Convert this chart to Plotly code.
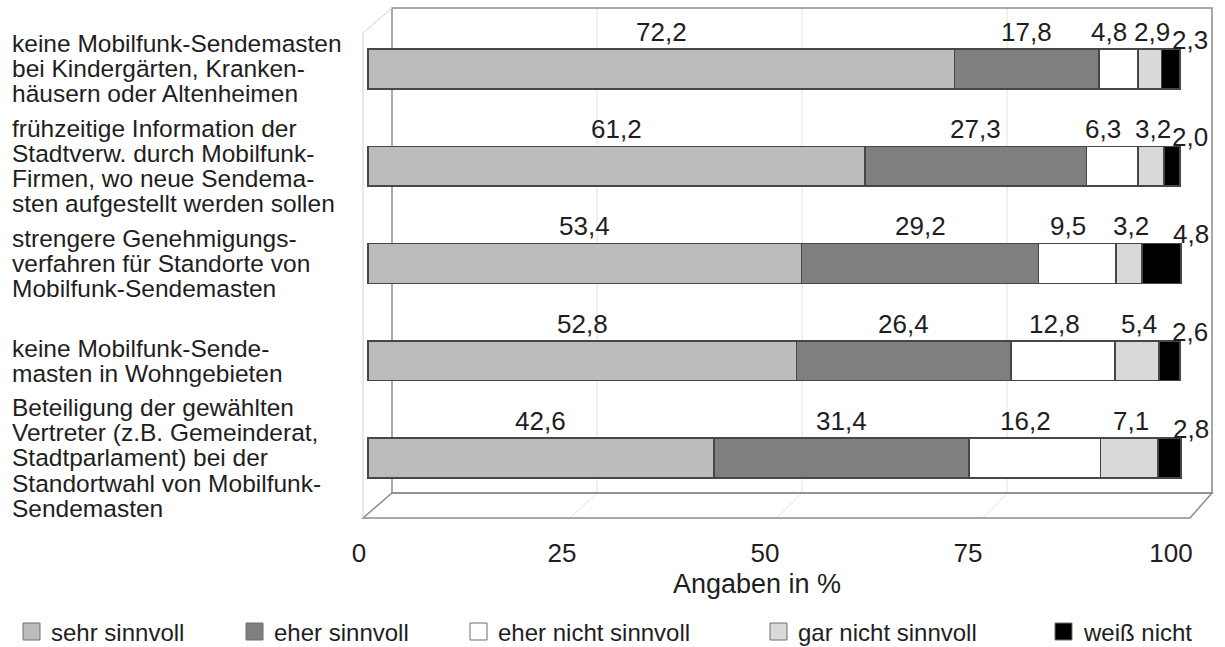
# Mobilfunk survey chart
# ----------------------------------------------------------------------------------------------------------------------
# Library
# ----------------------------------------------------------------------------------------------------------------------
import plotly.graph_objects as go

# ----------------------------------------------------------------------------------------------------------------------
# Data
# ----------------------------------------------------------------------------------------------------------------------
categories = [
    "keine Mobilfunk-Sendemasten<br>bei Kindergärten, Kranken-<br>häusern oder Altenheimen",
    "frühzeitige Information der<br>Stadtverw. durch Mobilfunk-<br>Firmen, wo neue Sendema-<br>sten aufgestellt werden sollen",
    "strengere Genehmigungs-<br>verfahren für Standorte von<br>Mobilfunk-Sendemasten",
    "keine Mobilfunk-Sende-<br>masten in Wohngebieten",
    "Beteiligung der gewählten<br>Vertreter (z.B. Gemeinderat,<br>Stadtparlament) bei der<br>Standortwahl von Mobilfunk-<br>Sendemasten",
]
series_names = ["sehr sinnvoll", "eher sinnvoll", "eher nicht sinnvoll", "gar nicht sinnvoll", "weiß nicht"]
sehr_sinnvoll = [72.2, 61.2, 53.4, 52.8, 42.6]
eher_sinnvoll = [17.8, 27.3, 29.2, 26.4, 31.4]
eher_nicht_sinnvoll = [4.8, 6.3, 9.5, 12.8, 16.2]
gar_nicht_sinnvoll = [2.9, 3.2, 3.2, 5.4, 7.1]
weiss_nicht = [2.3, 2.0, 4.8, 2.6, 2.8]
x_ticks = [0, 25, 50, 75, 100]
x_title = "Angaben in %"

# ----------------------------------------------------------------------------------------------------------------------
# Style
# ----------------------------------------------------------------------------------------------------------------------
colors = ['#bcbcbc', '#7f7f7f', '#ffffff', '#d9d9d9', '#000000']
font_family = "Liberation Sans, Arial, sans-serif"
text_color = '#1e1e1e'

# Plot area in pixels (used for decoration placement)
L, R, T, B = 360, 1215, 8, 518
W, H = 1225, 647


def px_x(px):
    return (px - L) / (R - L)


def px_y(py):
    return (B - py) / (B - T)


# ----------------------------------------------------------------------------------------------------------------------
# Figure
# ----------------------------------------------------------------------------------------------------------------------
fig = go.Figure()
rows = list(range(len(categories)))
all_series = [sehr_sinnvoll, eher_sinnvoll, eher_nicht_sinnvoll, gar_nicht_sinnvoll, weiss_nicht]

for name, vals, col in zip(series_names, all_series, colors):
    fig.add_trace(go.Bar(y=rows, x=vals, name=name, orientation='h', width=0.41,
                         marker=dict(color=col, line=dict(color='#474747', width=1.5)),
                         showlegend=False))

# Value labels above each segment (small nudges keep the narrow ones apart)
label_xshift = [0, 0, -9, 2, 10]
annotations = []
base = [0.0] * len(rows)
for k, vals in enumerate(all_series):
    last = k == len(all_series) - 1
    for i, v in enumerate(vals):
        center = base[i] + v / 2
        annotations.append(dict(
            x=base[i] + v if last else center, y=i, xref='x', yref='y',
            text=f"{v:.1f}".replace('.', ','), showarrow=False,
            xanchor='center', yanchor='bottom',
            xshift=label_xshift[k], yshift=12 if last else 20,
            font=dict(size=26, color=text_color, family=font_family)))
        base[i] += v

# Category labels, line by line (tight line spacing)
line_step = 25 / 97.25
for i, cat in enumerate(categories):
    lines = cat.split("<br>")
    n = len(lines)
    for j, line in enumerate(lines):
        annotations.append(dict(
            x=px_x(10), y=i + (j - (n - 1) / 2) * line_step, xref='paper', yref='y',
            text=line, showarrow=False, xanchor='left', yanchor='middle',
            font=dict(size=24.5, color=text_color, family=font_family)))

# Axis title
annotations.append(dict(x=px_x(757), y=px_y(584), xref='paper', yref='paper', text=x_title,
                        showarrow=False, xanchor='center', yanchor='middle',
                        font=dict(size=27, color=text_color, family=font_family)))

# ----------------------------------------------------------------------------------------------------------------------
# 3D box decoration (back wall, floor, side wall, grid)
# ----------------------------------------------------------------------------------------------------------------------
shapes = []
box_line = dict(color='#8c8c8c', width=1.5)
grid_line = dict(color='#e2e2e2', width=1)

back_l, back_r, back_t, back_b = 392, 1212, 8, 493
front_l, front_r = 363, 1190

for t in x_ticks[1:-1]:
    xb = back_l + (back_r - back_l) * t / 100
    xf = front_l + (front_r - front_l) * t / 100
    shapes.append(dict(type='line', xref='paper', yref='paper', x0=px_x(xb), x1=px_x(xb),
                       y0=px_y(back_t), y1=px_y(back_b), line=grid_line, layer='below'))
    shapes.append(dict(type='line', xref='paper', yref='paper', x0=px_x(xb), x1=px_x(xf),
                       y0=px_y(back_b), y1=px_y(B), line=grid_line, layer='below'))

# Back wall
shapes.append(dict(type='rect', xref='paper', yref='paper', x0=px_x(back_l), x1=px_x(back_r),
                   y0=px_y(back_b), y1=px_y(back_t), line=box_line, layer='below'))
# Floor
shapes.append(dict(type='path', xref='paper', yref='paper', layer='below', line=box_line,
                   path=f"M {px_x(front_l)},{px_y(B)} L {px_x(front_r)},{px_y(B)} "
                        f"L {px_x(back_r)},{px_y(back_b)} L {px_x(back_l)},{px_y(back_b)} Z"))
# Left side wall
shapes.append(dict(type='path', xref='paper', yref='paper', layer='below',
                   line=dict(color='#d0d0d0', width=1),
                   path=f"M {px_x(front_l)},{px_y(B)} L {px_x(front_l)},{px_y(33)} "
                        f"L {px_x(back_l)},{px_y(back_t)}"))

# ----------------------------------------------------------------------------------------------------------------------
# Manual legend
# ----------------------------------------------------------------------------------------------------------------------
legend_x = [23, 246, 470, 770, 1055]
for name, col, lx in zip(series_names, colors, legend_x):
    shapes.append(dict(type='rect', xref='paper', yref='paper', x0=px_x(lx), x1=px_x(lx + 17),
                       y0=px_y(640), y1=px_y(623), fillcolor=col,
                       line=dict(color='#6e6e6e', width=1)))
    annotations.append(dict(x=px_x(lx + 26), y=px_y(632), xref='paper', yref='paper', text=name,
                            showarrow=False, xanchor='left', yanchor='middle',
                            font=dict(size=24, color=text_color, family=font_family)))

# ----------------------------------------------------------------------------------------------------------------------
# Layout
# ----------------------------------------------------------------------------------------------------------------------
fig.update_layout(width=W, height=H, barmode='stack', separators=',.',
                  margin=dict(l=L, r=W - R, t=T, b=H - B),
                  plot_bgcolor='white', paper_bgcolor='white',
                  font=dict(family=font_family, color=text_color),
                  annotations=annotations, shapes=shapes)

fig.update_xaxes(range=[-0.985, 104.31], tickvals=x_ticks, showgrid=False, zeroline=False,
                 showline=False, ticks='', ticklabelstandoff=17, ticklabelshift=-9,
                 tickfont=dict(size=26, color=text_color))
fig.update_yaxes(range=[4.617, -0.627], showticklabels=False, showgrid=False,
                 zeroline=False, showline=False)

# Remove the default page margin so the figure sits at the top-left corner
fig.write_html("out.html", config={'displayModeBar': False},
               post_script="document.body.style.margin='0';")
